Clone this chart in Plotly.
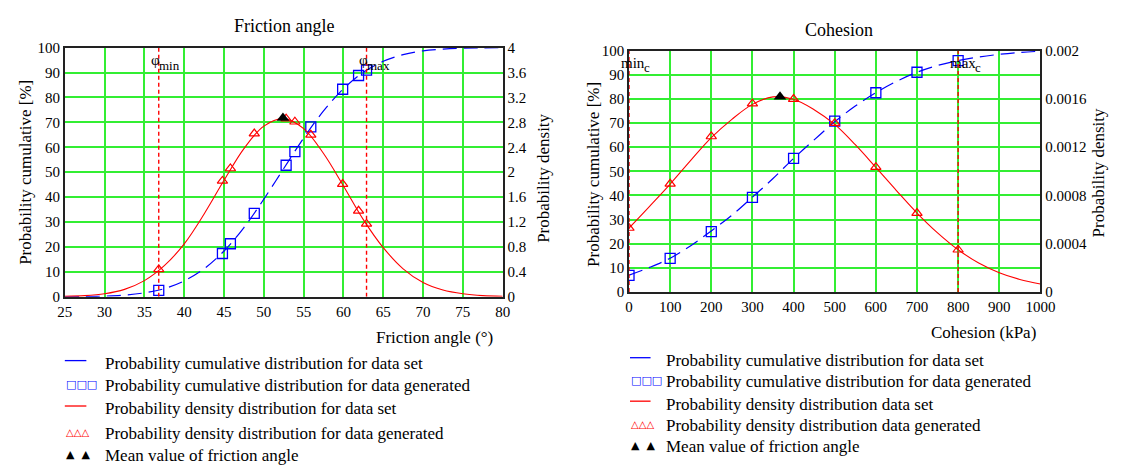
import plotly.graph_objects as go

W, H = 1123, 471

# ---------------- Friction angle ----------------
phi_grid = [25, 27.5, 30, 32.5, 35, 37.5, 40, 42.5, 45, 47.5, 50, 52.5,
            55, 57.5, 60, 62.5, 65, 67.5, 70, 72.5, 75, 77.5, 80]
phi_cdf = [0.03, 0.1, 0.3, 0.7, 1.6, 3.3, 6.4, 11.3, 18.4, 27.8, 39.2, 51.5,
           63.7, 74.6, 83.5, 90.1, 94.5, 97.2, 98.7, 99.4, 99.8, 99.9, 100.0]
phi_pdf = [0.01, 0.02, 0.05, 0.12, 0.26, 0.50, 0.85, 1.33, 1.87, 2.38, 2.74, 2.86,
           2.70, 2.30, 1.78, 1.24, 0.79, 0.45, 0.23, 0.11, 0.05, 0.02, 0.01]

phi_gen = [36.8, 44.8, 45.8, 48.8, 52.8, 53.9, 55.9, 59.9, 61.9, 62.9]
phi_gen_cdf = [2.6, 17.4, 21.3, 33.5, 52.8, 58.3, 68.2, 83.3, 88.8, 91.0]
phi_gen_pdf = [0.44, 1.86, 2.06, 2.62, 2.86, 2.81, 2.60, 1.81, 1.38, 1.17]

phi_mean = 52.4
phi_mean_pdf = 2.87
phi_min, phi_max = 36.8, 62.9

# ---------------- Cohesion ----------------
c_grid = [0, 50, 100, 150, 200, 250, 300, 350, 400, 450, 500,
          550, 600, 650, 700, 750, 800, 850, 900, 950, 1000]
c_cdf = [7.0, 10.2, 14.0, 19.2, 25.3, 31.8, 39.3, 47.0, 55.3, 63.0, 70.5,
         77.0, 82.5, 87.2, 91.0, 93.8, 95.8, 97.3, 98.4, 99.2, 99.7]
c_pdf = [0.00053, 0.00071, 0.000894, 0.00109, 0.001278, 0.00143, 0.001554,
         0.001616, 0.001596, 0.00151, 0.001388, 0.00122, 0.001032, 0.00084,
         0.000654, 0.00049, 0.00035, 0.00024, 0.00016, 0.000104, 0.000066]

c_gen = [0, 100, 200, 300, 400, 500, 600, 700, 800]
c_gen_cdf = [6.9, 13.9, 25.0, 39.2, 55.3, 70.8, 82.5, 91.0, 95.8]
c_gen_pdf = [0.00053, 0.000896, 0.001288, 0.00156, 0.001598, 0.001398,
             0.001034, 0.000654, 0.00035]

c_mean = 367
c_mean_pdf = 0.001618
c_min, c_max = 0, 800

phi_ticks = [25, 30, 35, 40, 45, 50, 55, 60, 65, 70, 75, 80]
c_ticks = [0, 100, 200, 300, 400, 500, 600, 700, 800, 900, 1000]

legend_left = [
    "Probability cumulative distribution for data set",
    "Probability cumulative distribution for data generated",
    "Probability density distribution for data set",
    "Probability density distribution for data generated",
    "Mean value of friction angle",
]
legend_right = [
    "Probability cumulative distribution for data set",
    "Probability cumulative distribution for data generated",
    "Probability density distribution data set",
    "Probability density distribution data generated",
    "Mean value of friction angle",
]

SERIF = "Liberation Serif"
SYM = "DejaVu Sans"
BLUE, RED, GRID = "#0000ff", "#ff0000", "#33ee33"
DASH_BLUE = "14px,7px"
DASH_RED = "4px,3px"


def px(x):
    return x / W


def py(y):
    return 1 - y / H


fig = go.Figure()

# Friction angle traces (x, y / y2)
fig.add_trace(go.Scatter(x=phi_grid, y=phi_cdf, mode="lines", line_shape="spline",
                         line=dict(color=BLUE, width=1.2, dash=DASH_BLUE),
                         xaxis="x", yaxis="y", showlegend=False))
fig.add_trace(go.Scatter(x=phi_gen, y=phi_gen_cdf, mode="markers",
                         marker=dict(symbol="square-open", size=10, color=BLUE,
                                     line=dict(width=1.3)),
                         xaxis="x", yaxis="y", showlegend=False))
fig.add_trace(go.Scatter(x=phi_grid, y=phi_pdf, mode="lines", line_shape="spline",
                         line=dict(color=RED, width=1.1),
                         xaxis="x", yaxis="y2", showlegend=False))
fig.add_trace(go.Scatter(x=phi_gen, y=phi_gen_pdf, mode="markers",
                         marker=dict(symbol="triangle-up-open", size=9, color=RED,
                                     line=dict(width=1.2)),
                         xaxis="x", yaxis="y2", showlegend=False))
fig.add_trace(go.Scatter(x=[phi_mean], y=[phi_mean_pdf], mode="markers",
                         marker=dict(symbol="triangle-up", size=11, color="black"),
                         xaxis="x", yaxis="y2", showlegend=False))
for xv in (phi_min, phi_max):
    fig.add_trace(go.Scatter(x=[xv, xv], y=[0, 100], mode="lines",
                             line=dict(color=RED, width=1.4, dash=DASH_RED),
                             xaxis="x", yaxis="y", showlegend=False))

# Cohesion traces (x2, y3 / y4)
fig.add_trace(go.Scatter(x=c_grid, y=c_cdf, mode="lines", line_shape="spline",
                         line=dict(color=BLUE, width=1.2, dash=DASH_BLUE),
                         xaxis="x2", yaxis="y3", showlegend=False))
fig.add_trace(go.Scatter(x=c_gen, y=c_gen_cdf, mode="markers",
                         marker=dict(symbol="square-open", size=10, color=BLUE,
                                     line=dict(width=1.3)),
                         xaxis="x2", yaxis="y3", showlegend=False))
fig.add_trace(go.Scatter(x=c_grid, y=c_pdf, mode="lines", line_shape="spline",
                         line=dict(color=RED, width=1.1),
                         xaxis="x2", yaxis="y4", showlegend=False))
fig.add_trace(go.Scatter(x=c_gen, y=c_gen_pdf, mode="markers",
                         marker=dict(symbol="triangle-up-open", size=9, color=RED,
                                     line=dict(width=1.2)),
                         xaxis="x2", yaxis="y4", showlegend=False))
fig.add_trace(go.Scatter(x=[c_mean], y=[c_mean_pdf], mode="markers",
                         marker=dict(symbol="triangle-up", size=11, color="black"),
                         xaxis="x2", yaxis="y4", showlegend=False))
for xv in (c_min, c_max):
    fig.add_trace(go.Scatter(x=[xv, xv], y=[0, 100], mode="lines",
                             line=dict(color=RED, width=1.4, dash=DASH_RED),
                             xaxis="x2", yaxis="y3", showlegend=False))

tickfont = dict(family=SERIF, size=15, color="black")
axis_common = dict(showline=True, linecolor="#222", linewidth=1.5, mirror=True,
                   ticks="", tickfont=tickfont, zeroline=False)

fig.update_layout(
    width=W, height=H,
    margin=dict(l=0, r=0, t=0, b=0),
    paper_bgcolor="white", plot_bgcolor="white",
    showlegend=False,
    font=dict(family=SERIF, color="black"),
    xaxis=dict(domain=[px(58), px(505)], range=[25, 80], tickvals=phi_ticks,
               showgrid=True, gridcolor=GRID, gridwidth=1.6, anchor="y", **axis_common),
    yaxis=dict(domain=[py(299), py(41)], range=[0, 100], dtick=10,
               showgrid=True, gridcolor=GRID, gridwidth=1.6, anchor="x", **axis_common),
    yaxis2=dict(overlaying="y", side="right", anchor="x", range=[0, 4], dtick=0.4,
                showgrid=False, tickformat="~g", **axis_common),
    xaxis2=dict(domain=[px(634), px(1054)], range=[0, 1000], tickvals=c_ticks,
                showgrid=True, gridcolor=GRID, gridwidth=1.6, anchor="y3", **axis_common),
    yaxis3=dict(domain=[py(294), py(44)], range=[0, 100], dtick=10,
                showgrid=True, gridcolor=GRID, gridwidth=1.6, anchor="x2", **axis_common),
    yaxis4=dict(overlaying="y3", side="right", anchor="x2", range=[0, 0.002],
                dtick=0.0004, showgrid=False, tickformat="~g", **axis_common),
)

ann = []


def text(x, y, s, size=16, color="black", xanchor="center", angle=0, family=SERIF):
    ann.append(dict(x=px(x), y=py(y), xref="paper", yref="paper", text=s,
                    showarrow=False, xanchor=xanchor, yanchor="middle",
                    textangle=angle, font=dict(family=family, size=size, color=color)))


# Titles and axis titles
text(282, 19, "Friction angle", size=18)
text(848, 23, "Cohesion", size=18)
text(18, 170, "Probability cumulative [%]", size=17, angle=-90)
text(546, 176, "Probability density", size=17, angle=-90)
text(597, 172, "Probability cumulative [%]", size=17, angle=-90)
text(1113, 171, "Probability density", size=17, angle=-90)
text(497, 341, "Friction angle (°)", size=17, xanchor="right")
text(1052, 336, "Cohesion (kPa)", size=17, xanchor="right")

# Bound labels on the vertical limit lines: main symbol plus a lowered index
for xv, main, sub, xa, ya, wmain in ((phi_min, "φ", "min", "x", "y", 8),
                                     (phi_max, "φ", "max", "x", "y", 8),
                                     (c_min, "min", "c", "x2", "y3", 23),
                                     (c_max, "max", "c", "x2", "y3", 25)):
    ann.append(dict(x=xv, y=95, xref=xa, yref=ya, text=main, showarrow=False,
                    xanchor="left", xshift=-10, yanchor="middle",
                    font=dict(family=SERIF, size=15, color="black")))
    ann.append(dict(x=xv, y=95, xref=xa, yref=ya, text=sub, showarrow=False,
                    xanchor="left", xshift=-10 + wmain, yshift=-5, yanchor="middle",
                    font=dict(family=SERIF, size=13, color="black")))

# Legends
shapes = []
NB = "\u00a0"
for x0, x1, tx, rows, labels in ((58, 80, 97, [365, 388, 412, 437, 460], legend_left),
                                 (635, 656, 670, [362, 384, 407, 429, 451], legend_right)):
    shapes.append(dict(type="line", xref="paper", yref="paper",
                       x0=px(x0), x1=px(x1), y0=py(rows[0]), y1=py(rows[0]),
                       line=dict(color=BLUE, width=1.3)))
    shapes.append(dict(type="line", xref="paper", yref="paper",
                       x0=px(x0), x1=px(x1), y0=py(rows[2]), y1=py(rows[2]),
                       line=dict(color=RED, width=1.3)))
    text(x0 - 1, rows[1] + 2, "□□□", size=11, color=BLUE, xanchor="left", family=SYM)
    text(x0 - 1, rows[3] + 2, "△△△", size=10, color=RED, xanchor="left", family=SYM)
    text(x0 - 1, rows[4] + 2, "▲" + NB + NB + "▲", size=11, color="black",
         xanchor="left", family=SYM)
    for r, lab in zip(rows, labels):
        text(tx, r + 3, lab, size=17, xanchor="left")

fig.update_layout(annotations=ann, shapes=shapes)

fig.write_html("out.html")
